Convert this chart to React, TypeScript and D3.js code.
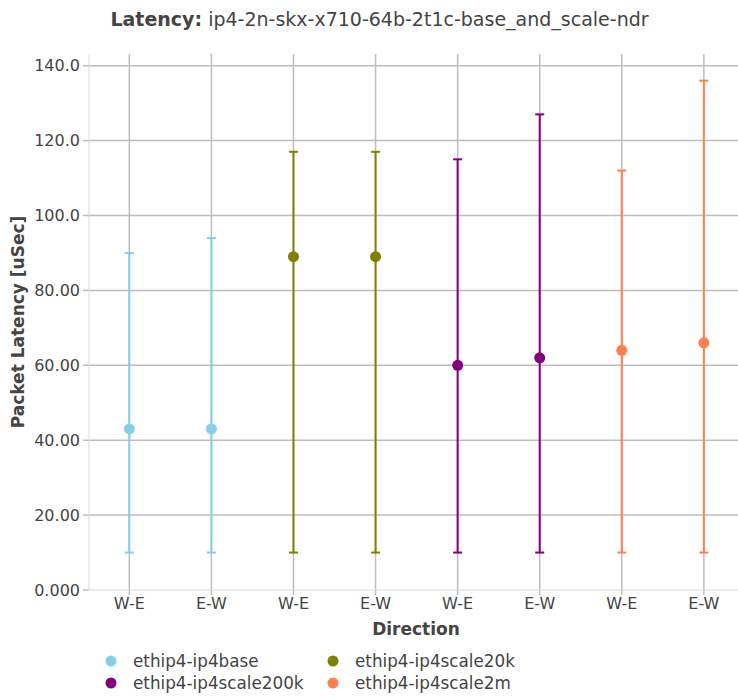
import React from "react";
import * as d3 from "d3";

const categories = ["W-E", "E-W", "W-E", "E-W", "W-E", "E-W", "W-E", "E-W"];
const seriesNames = ["ethip4-ip4base", "ethip4-ip4scale20k", "ethip4-ip4scale200k", "ethip4-ip4scale2m"];
const seriesColors = ["#87ceeb", "#808000", "#800080", "#ff7f50"];
// per series: two points (W-E, E-W)
const avgValues = [[43, 43], [89, 89], [60, 62], [64, 66]];
const minValues = [[10, 10], [10, 10], [10, 10], [10, 10]];
const maxValues = [[90, 94], [117, 117], [115, 127], [112, 136]];
const yTicks = [0, 20, 40, 60, 80, 100, 120, 140];
const yTickLabels = ["0.000", "20.00", "40.00", "60.00", "80.00", "100.0", "120.0", "140.0"];

const W = 738;
const H = 699;
const plotLeft = 89;
const plotTop = 54;
const plotBottom = 590;
const plotRight = 738;
const FONT = "DejaVu Sans, sans-serif";

export default function App() {
  const x = d3.scaleLinear().domain([-0.5, 7.5]).range([88.3, 744.9]);
  const y = d3.scaleLinear().domain([0, 140]).range([590, 65.7]);

  const points: { idx: number; s: number; avg: number; lo: number; hi: number }[] = [];
  seriesNames.forEach((_, s) => {
    avgValues[s].forEach((v, k) => {
      points.push({ idx: s * 2 + k, s, avg: v, lo: minValues[s][k], hi: maxValues[s][k] });
    });
  });

  return (
    <svg width={W} height={H} style={{ position: "absolute", left: 0, top: 0, background: "#fff" }} fontFamily={FONT}>
      <defs>
        <clipPath id="plotclip">
          <rect x={plotLeft} y={plotTop} width={plotRight - plotLeft} height={plotBottom - plotTop + 1} />
        </clipPath>
      </defs>
      <text x={379.5} y={26} textAnchor="middle" fontSize={19} fill="#444">
        <tspan fontWeight="bold">Latency:</tspan> ip4-2n-skx-x710-64b-2t1c-base_and_scale-ndr
      </text>

      {/* horizontal grid */}
      {yTicks.map((t, i) => (
        <g key={"y" + i}>
          {t !== 0 && (
            <line x1={plotLeft} x2={plotRight} y1={y(t)} y2={y(t)} stroke="#bdbdbd" strokeWidth={1.5} />
          )}
          <line x1={plotLeft - 6} x2={plotLeft} y1={y(t)} y2={y(t)} stroke="#bdbdbd" strokeWidth={1.5} />
          <text x={80} y={y(t)} dy="0.36em" textAnchor="end" fontSize={16} fill="#444">
            {yTickLabels[i]}
          </text>
        </g>
      ))}
      {/* vertical grid */}
      {categories.map((c, i) => (
        <g key={"x" + i}>
          <line x1={x(i)} x2={x(i)} y1={plotTop} y2={plotBottom + 5} stroke="#bdbdbd" strokeWidth={1.5} />
          <text x={x(i)} y={603} dy="0.36em" textAnchor="middle" fontSize={16} fill="#444">
            {c}
          </text>
        </g>
      ))}
      {/* axis lines */}
      <line x1={plotLeft} x2={plotLeft} y1={plotTop} y2={plotBottom} stroke="#d9d9d9" strokeWidth={1} />
      <line x1={plotLeft} x2={plotRight} y1={plotBottom} y2={plotBottom} stroke="#d9d9d9" strokeWidth={1} />

      {/* error bars and markers */}
      <g clipPath="url(#plotclip)">
        {points.map((p, i) => (
          <g key={"p" + i}>
            <line x1={x(p.idx)} x2={x(p.idx)} y1={y(p.lo)} y2={y(p.hi)} stroke={seriesColors[p.s]} strokeWidth={2} />
            <line x1={x(p.idx) - 4.5} x2={x(p.idx) + 4.5} y1={y(p.lo)} y2={y(p.lo)} stroke={seriesColors[p.s]} strokeWidth={2} />
            <line x1={x(p.idx) - 4.5} x2={x(p.idx) + 4.5} y1={y(p.hi)} y2={y(p.hi)} stroke={seriesColors[p.s]} strokeWidth={2} />
            <circle cx={x(p.idx)} cy={y(p.avg)} r={5.5} fill={seriesColors[p.s]} />
          </g>
        ))}
      </g>

      {/* axis titles */}
      <text x={416} y={629} dy="0.36em" textAnchor="middle" fontSize={17} fontWeight="bold" fill="#444">
        Direction
      </text>
      <text transform={`translate(18,${(plotTop + plotBottom) / 2}) rotate(-90)`} dy="0.36em" textAnchor="middle" fontSize={17} fontWeight="bold" fill="#444">
        Packet Latency [uSec]
      </text>

      {/* legend */}
      {seriesNames.map((n, i) => {
        const col = i % 2;
        const row = Math.floor(i / 2);
        const lx = 111 + col * 222;
        const ly = 661 + row * 22;
        return (
          <g key={"l" + i}>
            <circle cx={lx} cy={ly} r={5.5} fill={seriesColors[i]} />
            <text x={lx + 22} y={ly} dy="0.36em" fontSize={16.8} fill="#444">
              {n}
            </text>
          </g>
        );
      })}
    </svg>
  );
}
